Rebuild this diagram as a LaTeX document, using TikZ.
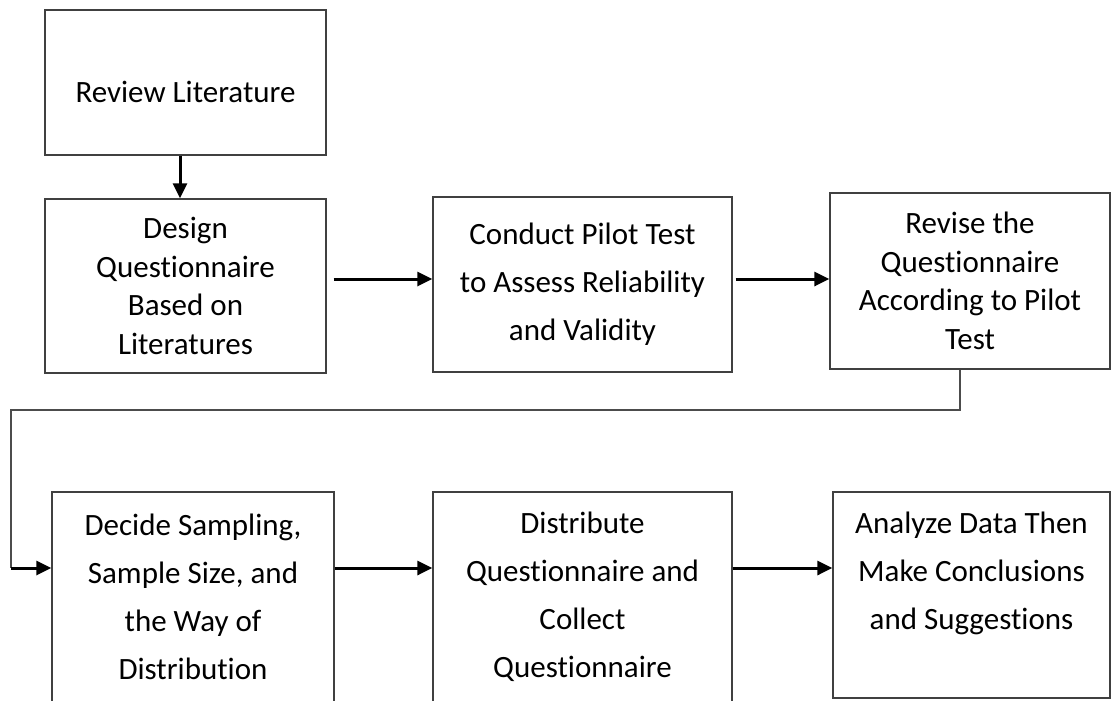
\documentclass[tikz,border=0pt]{standalone}
\usepackage{fontspec}
\setmainfont{Carlito}[Ligatures = CommonOff]
\usetikzlibrary{arrows.meta}

\tikzset{
  box/.style = {draw = black!75, line width = 1.3pt, align = center,
    inner sep = 0pt, font = \fontsize{31}{48}\selectfont},
  tightbox/.style = {box, font = \fontsize{31}{38.5}\selectfont},
  flow/.style = {line width = 3pt, -{Triangle[length = 15pt, width = 14pt]}},
  elbow/.style = {draw = black!70, line width = 1.5pt}
}

\begin{document}
\begin{tikzpicture}[x = 1pt, y = -1pt, thick]
\path[use as bounding box, clip] (0, 0) rectangle (1111, 701);
% Top row
\node[box, minimum width = 281, minimum height = 145, text height = 39pt, text depth = 0pt]
  (literature) at (185.5, 82.5) {Review Literature};
\node[tightbox, minimum width = 281, minimum height = 174]
  (design) at (185.5, 286) {Design\\Questionnaire\\Based on\\Literatures};
\node[box, minimum width = 299, minimum height = 175]
  (pilot) at (582.5, 284.5) {Conduct Pilot Test\\to Assess Reliability\\and Validity};
\node[tightbox, minimum width = 280, minimum height = 176]
  (revise) at (970, 281) {Revise the\\Questionnaire\\According to Pilot\\Test};
% Bottom row
\node[box, minimum width = 282, minimum height = 210]
  (sampling) at (193, 597) {Decide Sampling,\\Sample Size, and\\the Way of\\Distribution};
\node[box, minimum width = 299, minimum height = 210]
  (distribute) at (582.5, 597) {Distribute\\Questionnaire and\\Collect\\Questionnaire};
\node[box, minimum width = 277, minimum height = 206]
  (analyze) at (971.5, 595) {Analyze Data Then\\Make Conclusions\\and Suggestions\\~};
% Rows of the arrows
\coordinate (row1) at (0, 279);
\coordinate (row2) at (0, 568);
\coordinate (turn) at (11, 568);
% Arrows
\draw[flow] (literature.south -| 180, 0) -- (design.north -| 180, 0);
\draw[flow, shorten < = 7pt] (design.east |- row1) -- (pilot.west |- row1);
\draw[flow, shorten < = 3pt] (pilot.east |- row1) -- (revise.west |- row1);
\draw[elbow] (revise.south -| 960, 0) -- (960, 410) -- (11, 410) -- (turn);
\draw[flow] (turn) -- (sampling.west |- row2);
\draw[flow] (sampling.east |- row2) -- (distribute.west |- row2);
\draw[flow] (distribute.east |- row2) -- (analyze.west |- row2);
\end{tikzpicture}
\end{document}
